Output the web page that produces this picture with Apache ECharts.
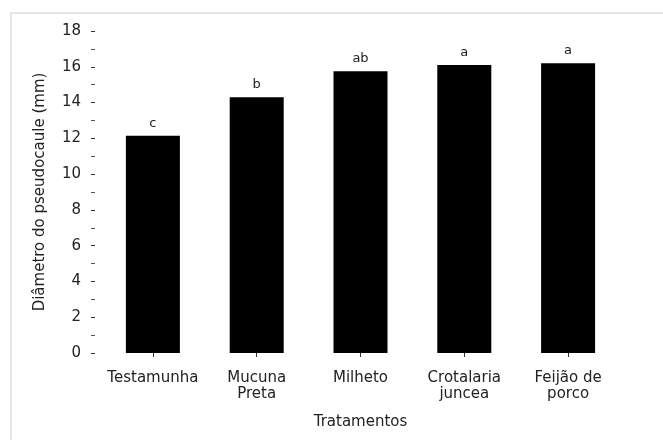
<!DOCTYPE html>
<html>
<head>
<meta charset="utf-8">
<script src="https://cdn.jsdelivr.net/npm/echarts@6/dist/echarts.min.js"></script>
<style>
  html, body { margin: 0; padding: 0; background: #fff; }
  #chart { width: 663px; height: 440px; }
</style>
</head>
<body>
<div id="chart"></div>
<script>
var categories = ['Testamunha', 'Mucuna\nPreta', 'Milheto', 'Crotalaria\njuncea', 'Feijão de\nporco']
var values = [12.15, 14.3, 15.75, 16.1, 16.2]
var letters = ['c', 'b', 'ab', 'a', 'a']
var yTicks = [0, 2, 4, 6, 8, 10, 12, 14, 16, 18]

var font = 'DejaVu Sans'
var chart = echarts.init(document.getElementById('chart'))
var option = {
  backgroundColor: '#fff',
  animation: false,
  // moldura clara em volta da figura
  graphic: [{
    type: 'rect',
    shape: { x: 11, y: 13, width: 700, height: 500 },
    style: { fill: 'none', stroke: '#e1e6ed', lineWidth: 2 },
    silent: true
  }],
  grid: { left: 101, right: 43, top: 31, bottom: 87 },
  xAxis: {
    type: 'category',
    data: categories,
    name: 'Tratamentos',
    nameLocation: 'middle',
    nameGap: 62,
    nameTextStyle: { fontFamily: font, fontSize: 15, color: '#222' },
    axisLine: { show: false },
    axisTick: { show: true, alignWithLabel: true, length: 4, lineStyle: { color: '#333' } },
    axisLabel: { fontFamily: font, fontSize: 15, color: '#222', lineHeight: 16, margin: 17, interval: 0 }
  },
  yAxis: {
    type: 'value',
    min: yTicks[0],
    max: yTicks[yTicks.length - 1],
    interval: 2,
    offset: 6,
    name: 'Diâmetro do pseudocaule (mm)',
    nameLocation: 'middle',
    nameGap: 47,
    nameTextStyle: { fontFamily: font, fontSize: 15, color: '#222' },
    axisLine: { show: false },
    axisTick: { show: true, length: 4, lineStyle: { color: '#333' } },
    minorTick: { show: true, splitNumber: 2, length: 4, lineStyle: { color: '#555' } },
    splitLine: { show: false },
    axisLabel: { fontFamily: font, fontSize: 15, color: '#222', margin: 14 }
  },
  series: [{
    type: 'bar',
    data: values,
    barWidth: 54,
    itemStyle: { color: '#000' },
    label: {
      show: true,
      position: 'top',
      distance: 6,
      fontFamily: font,
      fontSize: 13,
      color: '#222',
      formatter: function (p) { return letters[p.dataIndex] }
    }
  }]
}
chart.setOption(option)
</script>
</body>
</html>
